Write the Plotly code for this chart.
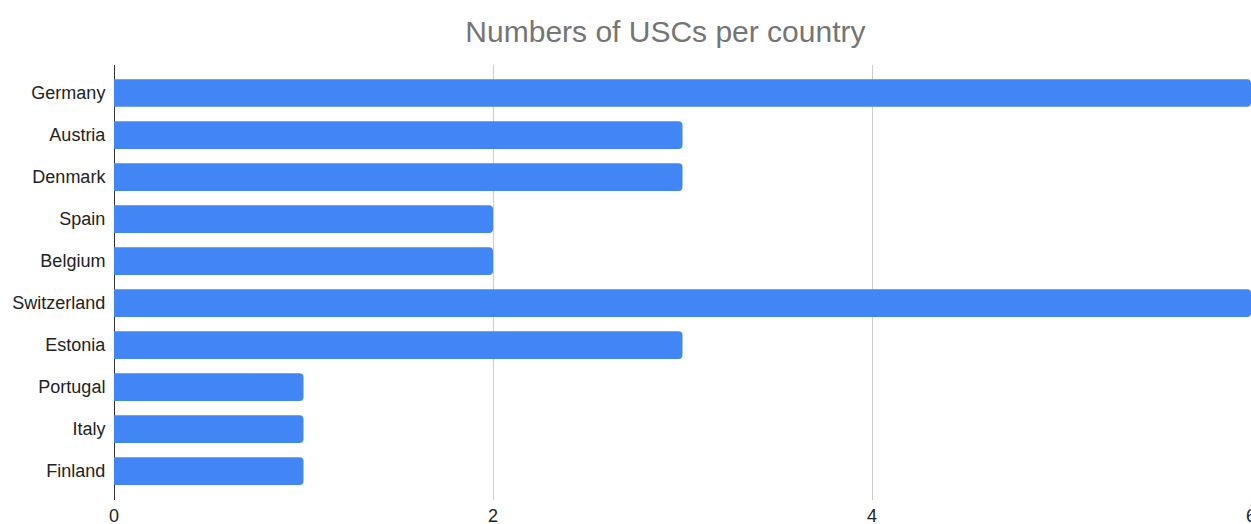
import plotly.graph_objects as go

countries = ["Germany", "Austria", "Denmark", "Spain", "Belgium", "Switzerland",
             "Estonia", "Portugal", "Italy", "Finland"]
uscs = [6, 3, 3, 2, 2, 6, 3, 1, 1, 1]
x_ticks = [0, 2, 4, 6]

fig = go.Figure(go.Bar(
    x=uscs, y=countries, orientation="h",
    marker=dict(color="#4285F4", line=dict(width=0)),
    width=0.66,
))

fig.update_layout(
    width=1251, height=524,
    margin=dict(l=114, r=0, t=65, b=24),
    paper_bgcolor="white", plot_bgcolor="white",
    barcornerradius=4,
    showlegend=False,
    font=dict(family="Liberation Sans, Arial, sans-serif", color="#222222"),
    title=dict(text="Numbers of USCs per country", font=dict(size=30, color="#757575"),
               x=0.485, xref="paper", xanchor="center", y=1 - 31 / 524, yref="container",
               yanchor="middle"),
    xaxis=dict(range=[0, 6], tickvals=x_ticks, showgrid=True, gridcolor="#cccccc", gridwidth=1,
               zeroline=True, zerolinecolor="#333333", zerolinewidth=1,
               tickfont=dict(size=18, color="#222222"), ticks="", ticklabelstandoff=3,
               automargin=False, showline=False, ticklabeloverflow="allow"),
    yaxis=dict(categoryorder="array", categoryarray=countries, range=[9.69, -0.667],
               tickfont=dict(size=18, color="#222222"), ticks="outside", ticklen=4,
               tickcolor="rgba(0,0,0,0)", automargin=False, showgrid=False, showline=False),
)

fig.write_html("out.html")
